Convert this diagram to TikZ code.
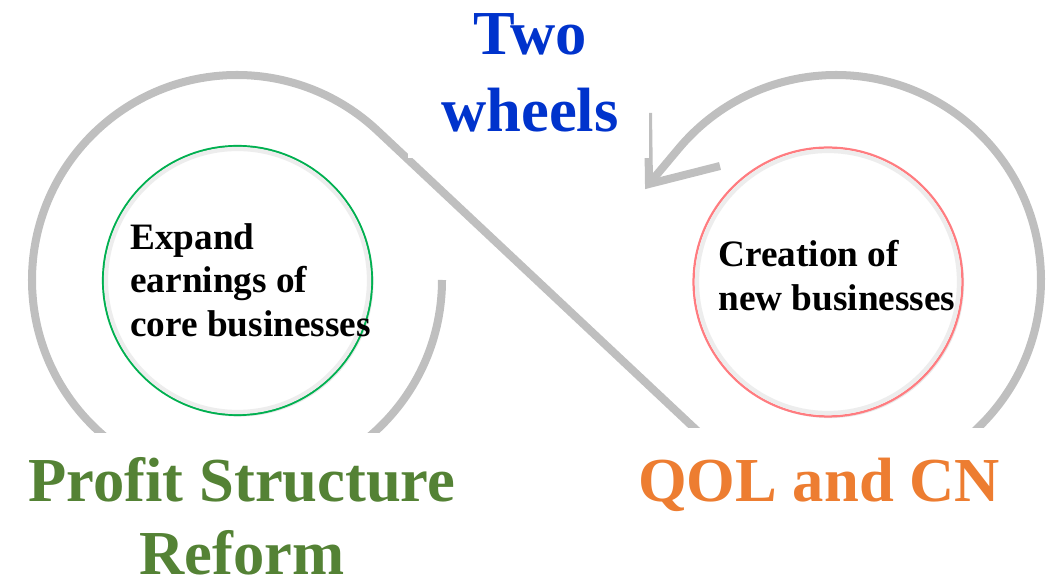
\documentclass[tikz,border=0pt]{standalone}
\usepackage{fontspec}
\setmainfont{Liberation Serif}
\usetikzlibrary{positioning, shadows}
\definecolor{cgrey}{HTML}{BFBFBF}
\definecolor{cblue}{HTML}{0033CC}
\definecolor{cgreen}{HTML}{548235}
\definecolor{corange}{HTML}{ED7D31}
\definecolor{cring}{HTML}{00B050}
\definecolor{cpink}{HTML}{FF7C80}
\tikzset{
  every picture/.style={x=0.025cm, y=0.025cm},
  track/.style={draw=cgrey, line width=5.7pt, line join=miter},
  mask/.style={fill=white},
  hub/.style={circle, draw=#1, line width=1.6pt, fill=white, minimum size=6.72cm, inner sep=0pt,
    drop shadow={shadow xshift=1.2pt, shadow yshift=-1.2pt, opacity=0.18}},
  hubshade/.style={draw=black!7, line width=3pt},
  hubtext/.style={font=\fontsize{26.5}{31}\selectfont\bfseries, align=left, inner sep=0pt},
  headline/.style={font=\fontsize{44.5}{54.8}\selectfont\bfseries, align=center, inner sep=0pt, text=#1},
}

\begin{document}
\begin{tikzpicture}
  \useasboundingbox (0,0) rectangle (1046,584);
  \coordinate (lhub) at (237,304);
  \coordinate (rhub) at (836,304);
  \coordinate (tip) at (649,400);

  % figure-eight track: left loop, crossing line, right loop
  \draw[track] ([shift={(0:205)}]lhub) arc[start angle=0, end angle=-313.2, radius=205]
    -- ([shift={(226.8:205)}]rhub) arc[start angle=226.8, end angle=500, radius=205] -- (tip);
  \draw[track] (648,471) -- (tip) -- (720,418);

  % white panels behind the headings
  \fill[mask] (408,426) rectangle (649,584);
  \fill[mask] (0,0) rectangle (523,151);
  \fill[mask] (523,0) rectangle (1046,156);

  % the two wheels
  \node[hub=cring] (core) at (237.5,303.5) {};
  \draw[hubshade] (core.center) circle[radius=131.5];
  \node[hub=cpink] (new) at (828,302) {};
  \draw[hubshade] (new.center) circle[radius=131];

  \node[hubtext, anchor=north west] (coretext) at (130,361) {Expand\\earnings of\\core businesses};
  \node[hubtext, anchor=north west] (newtext) at (718,344) {Creation of\\new businesses};

  % headings
  \node[headline=cblue, anchor=north] (title) at (530,570.5) {Two\\wheels};
  \node[headline=cgreen, anchor=north, font=\fontsize{44.5}{52}\selectfont\bfseries] (reform) at (242,127) {Profit Structure\\Reform};
  \node[headline=corange, anchor=base] (qol) at (819,82) {QOL and CN};
\end{tikzpicture}
\end{document}
